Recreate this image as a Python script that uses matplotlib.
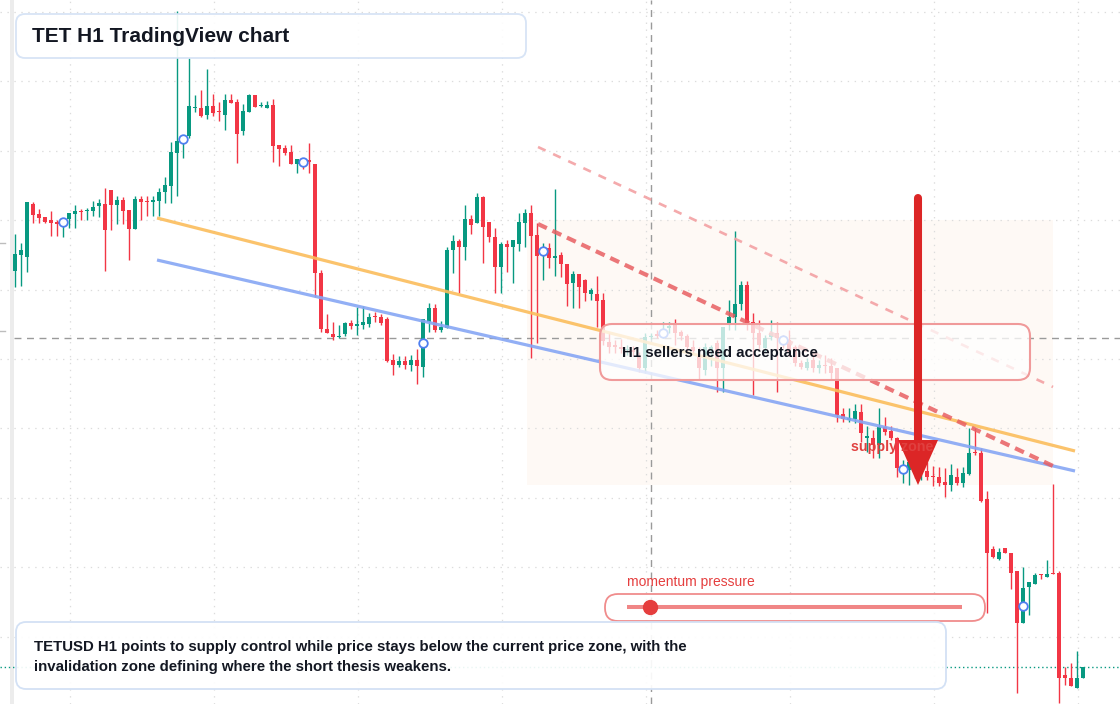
import numpy as np
import matplotlib.pyplot as plt
from matplotlib.patches import FancyBboxPatch, Polygon, Rectangle

plt.rcParams['font.family'] = ['Liberation Sans', 'DejaVu Sans']
plt.rcParams['lines.scale_dashes'] = False

# ---- TET H1 candles, read off the chart (levels measured from the top edge,
#      turned into price below: price = TOP - level)
TOP = 704
open_lv = [271, 255, 257, 204, 214, 217, 220, 222, 223, 219,
           214, 211, 211, 211, 206, 204, 190, 205, 200, 210,
           229, 199, 201, 202, 201, 192, 186, 153, 140, 136,
           108, 108, 115, 106, 111, 115, 100, 102, 131, 112,
           95, 106, 108, 105, 145, 148, 152, 164, 161, 160,
           164, 273, 329, 334, 337, 334, 323, 326, 325, 324,
           316, 317, 319, 360, 365, 361, 365, 360, 367, 322,
           308, 330, 328, 250, 241, 247, 219, 223, 197, 222,
           237, 267, 244, 247, 244, 223, 213, 235, 253, 248,
           258, 255, 264, 283, 274, 280, 294, 294, 300, 342,
           345, 347, 350, 350, 357, 368, 337, 334, 335, 328,
           325, 332, 336, 347, 355, 370, 350, 343, 368, 324,
           317, 304, 285, 322, 333, 348, 337, 333, 338, 340,
           347, 363, 368, 360, 368, 365, 366, 368, 414, 420,
           419, 412, 438, 438, 445, 427, 431, 438, 471, 470,
           462, 474, 471, 476, 477, 482, 485, 477, 483, 474,
           452, 453, 499, 549, 559, 548, 553, 571, 623, 587,
           584, 574, 577, 573, 573, 675, 678, 688, 678]
high_lv = [234, 243, 202, 202, 209, 217, 211, 220, 218, 213,
           205, 209, 208, 201, 199, 188, 190, 196, 197, 210,
           196, 196, 196, 196, 188, 177, 142, 11, 135, 58,
           95, 90, 69, 94, 102, 94, 94, 99, 104, 94,
           95, 102, 101, 99, 145, 145, 145, 159, 159, 143,
           164, 270, 314, 322, 325, 322, 320, 307, 306, 313,
           312, 314, 317, 354, 356, 356, 355, 349, 319, 303,
           304, 321, 247, 235, 239, 205, 215, 193, 196, 222,
           228, 242, 240, 240, 213, 209, 205, 223, 243, 243,
           189, 252, 264, 271, 274, 279, 288, 276, 293, 332,
           340, 339, 345, 346, 352, 333, 333, 330, 322, 322,
           319, 330, 334, 340, 347, 343, 345, 340, 327, 300,
           231, 281, 281, 313, 320, 335, 320, 322, 335, 330,
           345, 360, 358, 355, 360, 355, 358, 368, 408, 408,
           404, 404, 426, 430, 408, 417, 426, 437, 460, 442,
           455, 462, 462, 466, 467, 468, 464, 468, 467, 428,
           428, 448, 491, 546, 548, 548, 553, 571, 567, 582,
           573, 574, 560, 484, 571, 667, 663, 651, 667]
low_lv = [287, 286, 272, 223, 223, 223, 236, 236, 237, 228,
          228, 220, 220, 216, 217, 271, 230, 224, 224, 260,
          229, 220, 216, 216, 216, 203, 203, 196, 158, 138,
          112, 117, 119, 116, 121, 130, 103, 163, 135, 112,
          107, 107, 108, 162, 166, 155, 164, 173, 169, 173,
          297, 332, 333, 340, 338, 336, 329, 335, 329, 327,
          322, 325, 362, 375, 367, 369, 371, 384, 377, 332,
          332, 332, 328, 273, 293, 260, 234, 223, 263, 242,
          293, 293, 272, 283, 251, 247, 358, 343, 280, 268,
          276, 277, 306, 308, 308, 301, 300, 327, 345, 353,
          353, 353, 355, 356, 372, 373, 339, 338, 338, 333,
          345, 340, 352, 354, 380, 375, 366, 392, 392, 330,
          330, 310, 330, 395, 350, 352, 340, 392, 348, 356,
          366, 369, 370, 372, 373, 373, 380, 422, 422, 422,
          423, 442, 452, 458, 458, 435, 440, 477, 483, 485,
          478, 480, 480, 486, 486, 497, 491, 485, 487, 475,
          455, 502, 613, 558, 560, 553, 589, 693, 623, 615,
          584, 579, 577, 574, 703, 685, 686, 688, 678]
close_lv = [254, 250, 202, 215, 218, 222, 223, 224, 221, 213,
            211, 212, 210, 207, 203, 230, 205, 200, 211, 229,
            199, 202, 202, 200, 192, 185, 152, 141, 137, 106,
            107, 116, 106, 113, 112, 100, 103, 134, 111, 95,
            107, 105, 105, 146, 149, 153, 164, 159, 163, 162,
            273, 329, 333, 337, 336, 323, 326, 324, 322, 317,
            317, 323, 361, 365, 361, 365, 360, 366, 319, 308,
            330, 327, 250, 241, 247, 219, 225, 197, 227, 237,
            267, 244, 247, 240, 222, 213, 236, 256, 249, 258,
            256, 264, 284, 274, 287, 293, 290, 301, 341, 347,
            347, 349, 349, 352, 368, 337, 336, 336, 331, 326,
            333, 336, 347, 351, 368, 347, 347, 368, 327, 317,
            304, 285, 324, 333, 345, 338, 333, 338, 342, 353,
            363, 367, 362, 368, 365, 366, 373, 415, 419, 418,
            411, 433, 436, 445, 427, 432, 438, 468, 467, 462,
            472, 470, 477, 477, 483, 485, 475, 483, 473, 453,
            453, 501, 553, 557, 552, 553, 573, 623, 588, 582,
            575, 575, 574, 574, 678, 678, 686, 678, 667]

# drawings (bar index, price)
orange_line = [(23.67, 486), (176.67, 253)]
blue_line = [(23.67, 444), (176.67, 233)]
red_dash = [(87.17, 480), (173.0, 238)]
pink_dash = [(87.17, 557), (173.0, 317)]
zone = (85.33, 173.0, 219, 484)        # idx0, idx1, price low, price high
crosshair = (106.0, 366)               # idx, price
last_price = 37
marker_step, marker_start = 20, 8

grid_idx = [9.17, 33.17, 57.17, 81.17, 105.17, 129.17, 153.17, 177.17]
grid_price = [692, 623, 553, 484, 414, 345, 276, 206, 137, 67]

o = TOP - np.array(open_lv, float)
h = TOP - np.array(high_lv, float)
l = TOP - np.array(low_lv, float)
c = TOP - np.array(close_lv, float)
idx = np.arange(len(o))

GREEN, RED = '#089981', '#f23645'
cols = np.where(c >= o, GREEN, RED)

fig = plt.figure(figsize=(11.2, 7.04), dpi=100)
ax = fig.add_axes([0, 0, 1, 1])
ax.set_xlim(-2.5, (1120 - 15) / 6)
ax.set_ylim(0, TOP)
ax.set_xticks(grid_idx)
ax.set_yticks(grid_price)
ax.tick_params(length=0, labelbottom=False, labelleft=False)
for s in ax.spines.values():
    s.set_visible(False)
ax.grid(True, color='#dcdcdc', lw=0.9, ls=(0, (1, 4)))
ax.set_axisbelow(True)

# left strip
ax.axvspan(-0.83, -0.17, color='#ececec', lw=0, zorder=0)

# zone
ax.add_patch(Rectangle((zone[0], zone[2]), zone[1] - zone[0], zone[3] - zone[2],
                       fc='#fdf3ea', alpha=0.45, lw=0, zorder=0.5))

# crosshair + last price
ax.axvline(crosshair[0], color='#9a9a9a', lw=1, ls=(0, (5, 4)), zorder=1)
ax.axhline(crosshair[1], xmin=14 / 1120, color='#9a9a9a', lw=1, ls=(0, (5, 4)), zorder=1)
ax.axhline(last_price, color=GREEN, lw=1, ls=(0, (1, 2)), zorder=1)

# candles
ax.vlines(idx, l, h, colors=cols, lw=1, zorder=2)
body_h = np.maximum(np.abs(c - o), 1.2)
ax.bar(idx, body_h, bottom=np.minimum(o, c), width=0.74, color=cols, lw=0, zorder=3)

# trend lines
for pts, col in [(orange_line, '#fbbd5c'), (blue_line, '#86a6f4')]:
    xs, ys = zip(*pts)
    ax.plot(xs, ys, color=col, lw=2.3, alpha=0.9, solid_capstyle='butt', zorder=4)
xs, ys = zip(*red_dash)
ax.plot(xs, ys, color='#e85f62', lw=3, alpha=0.85, ls=(0, (7, 4.5)), zorder=4)
xs, ys = zip(*pink_dash)
ax.plot(xs, ys, color='#f3a1a3', lw=1.9, alpha=0.9, ls=(0, (6, 6)), zorder=4)

# blue markers at every 20th bar
mk = idx[marker_start::marker_step]
ax.scatter(mk, (o[mk] + c[mk]) / 2, s=38, facecolor='white', edgecolor='#4f7ff0',
           lw=1.3, zorder=5)

# ---- overlay in pixels
ov = fig.add_axes([0, 0, 1, 1])
ov.set_xlim(0, 1120)
ov.set_ylim(704, 0)
ov.axis('off')
ov.patch.set_alpha(0)

ov.plot([0, 5], [243, 243], color='#bdbdbd', lw=1)
ov.plot([0, 5], [331, 331], color='#bdbdbd', lw=1)

INK = '#131722'
ov.add_patch(FancyBboxPatch((16, 14), 510, 44, boxstyle='round,pad=0,rounding_size=9',
                            fc='white', ec='#d3e1f5', lw=1.3, alpha=0.9))
ov.text(32, 36, 'TET H1 TradingView chart', fontsize=15, fontweight='bold',
        color=INK, va='center', ha='left')

ov.add_patch(FancyBboxPatch((600, 324), 430, 56, boxstyle='round,pad=0,rounding_size=12',
                            fc=(1, 1, 1, 0.75), ec='#f09a9a', lw=1.5))
ov.text(622, 353, 'H1 sellers need acceptance', fontsize=10.8, fontweight='bold',
        color=INK, va='center', ha='left')

ov.text(851, 447, 'supply zone', fontsize=10.3, fontweight='bold', color='#e0403f',
        va='center', ha='left')
ov.plot([918, 918], [198, 445], color='#dc2626', lw=5.8, solid_capstyle='round')
ov.add_patch(Polygon([(898, 440), (938, 440), (918, 485)], closed=True,
                     fc='#dc2626', ec='none'))

ov.text(627, 582, 'momentum pressure', fontsize=10, color='#e53e3e', va='center', ha='left')
ov.add_patch(FancyBboxPatch((605, 594), 380, 27, boxstyle='round,pad=0,rounding_size=13',
                            fc=(1, 1, 1, 0.8), ec='#f08c8c', lw=1.3))
ov.plot([627, 962], [607, 607], color='#f08080', lw=2.9, alpha=0.95, solid_capstyle='butt')
ov.scatter([650], [607], s=100, color='#e53e3e', zorder=5)

ov.add_patch(FancyBboxPatch((16, 622), 930, 67, boxstyle='round,pad=0,rounding_size=10',
                            fc=(1, 1, 1, 0.92), ec='#d3e1f5', lw=1.3))
ov.text(34, 647, 'TETUSD H1 points to supply control while price stays below the current price zone, with the',
        fontsize=10.8, fontweight='bold', color=INK, va='center', ha='left')
ov.text(34, 667, 'invalidation zone defining where the short thesis weakens.',
        fontsize=10.8, fontweight='bold', color=INK, va='center', ha='left')

fig.savefig('out.png', dpi=100)
